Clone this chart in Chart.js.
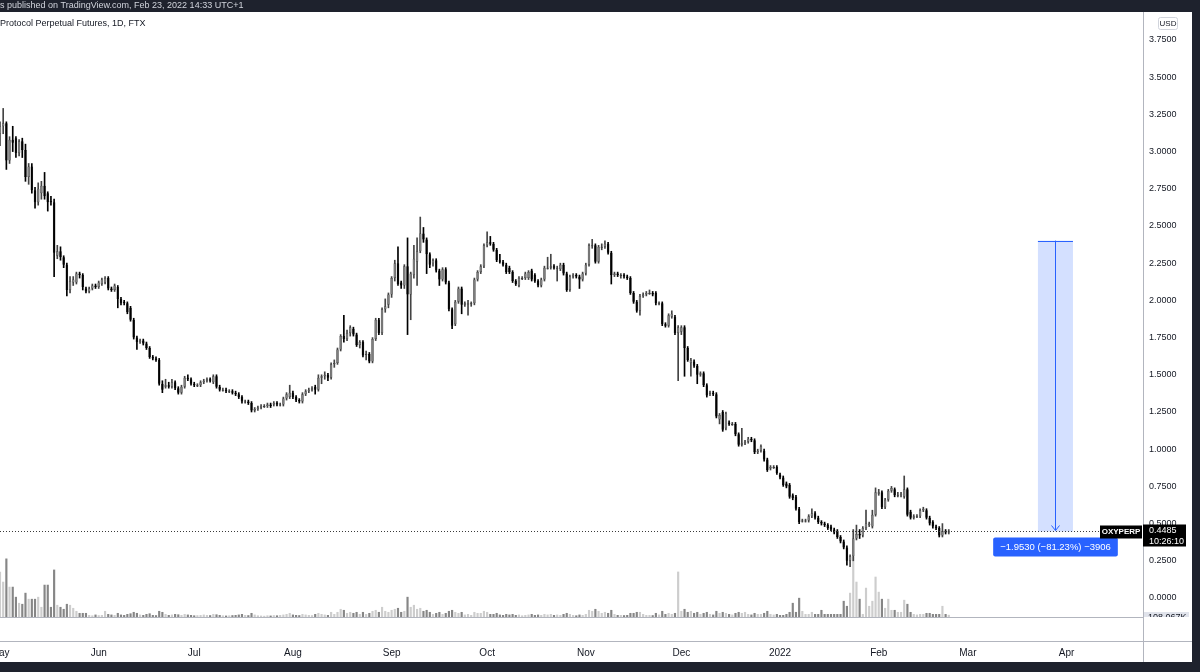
<!DOCTYPE html>
<html lang="en">
<head>
<meta charset="UTF-8">
<title>OXYPERP 1D FTX</title>
<script src="https://cdn.jsdelivr.net/npm/chart.js"></script>
<style>
  body { margin: 0; background: #1e222d; }
  canvas { display: block; }
</style>
</head>
<body>
<canvas id="chart" width="1200" height="672"></canvas>
<script>
// OXYPERP daily candles, 2021-05-01 .. 2022-02-23
const opens = [
  3.12, 3.17, 3.19, 2.94, 3.08, 3.09, 2.99, 3.07, 3.01, 2.83,
  2.90, 2.74, 2.66, 2.72, 2.77, 2.72, 2.67, 2.66, 2.30, 2.33,
  2.29, 2.24, 2.07, 2.12, 2.12, 2.18, 2.17, 2.08, 2.06, 2.08,
  2.10, 2.09, 2.11, 2.12, 2.15, 2.08, 2.07, 2.09, 2.01, 1.99,
  1.98, 1.95, 1.87, 1.75, 1.72, 1.73, 1.71, 1.68, 1.62, 1.61,
  1.60, 1.44, 1.42, 1.43, 1.42, 1.45, 1.41, 1.38, 1.42, 1.48,
  1.47, 1.44, 1.43, 1.43, 1.45, 1.46, 1.47, 1.45, 1.49, 1.42,
  1.40, 1.40, 1.39, 1.39, 1.38, 1.37, 1.35, 1.32, 1.32, 1.31,
  1.26, 1.27, 1.28, 1.29, 1.29, 1.30, 1.30, 1.31, 1.30, 1.30,
  1.34, 1.35, 1.38, 1.35, 1.33, 1.32, 1.37, 1.39, 1.40, 1.42,
  1.40, 1.48, 1.49, 1.50, 1.48, 1.57, 1.58, 1.67, 1.76, 1.74,
  1.78, 1.81, 1.77, 1.70, 1.72, 1.64, 1.64, 1.59, 1.74, 1.87,
  1.78, 1.94, 1.97, 2.04, 2.15, 2.25, 2.12, 2.10, 2.23, 2.04,
  2.17, 2.26, 2.33, 2.45, 2.41, 2.31, 2.25, 2.27, 2.20, 2.14,
  2.21, 2.12, 1.94, 1.84, 1.99, 2.08, 1.97, 1.97, 1.98, 1.98,
  2.14, 2.19, 2.23, 2.37, 2.39, 2.38, 2.34, 2.27, 2.26, 2.24,
  2.22, 2.19, 2.13, 2.10, 2.15, 2.15, 2.15, 2.20, 2.17, 2.13,
  2.10, 2.14, 2.22, 2.22, 2.23, 2.22, 2.21, 2.24, 2.18, 2.07,
  2.16, 2.17, 2.16, 2.14, 2.18, 2.24, 2.37, 2.37, 2.26, 2.36,
  2.36, 2.38, 2.32, 2.17, 2.18, 2.17, 2.17, 2.16, 2.15, 2.05,
  1.99, 1.93, 2.03, 2.04, 2.05, 2.05, 2.05, 1.98, 1.98, 1.84,
  1.83, 1.89, 1.89, 1.78, 1.79, 1.82, 1.68, 1.58, 1.59, 1.56,
  1.50, 1.51, 1.43, 1.38, 1.38, 1.37, 1.20, 1.25, 1.14, 1.18,
  1.17, 1.17, 1.10, 1.03, 1.04, 1.05, 1.07, 1.06, 0.98, 0.99,
  0.99, 0.93, 0.87, 0.88, 0.88, 0.83, 0.81, 0.77, 0.76, 0.69,
  0.68, 0.60, 0.52, 0.52, 0.52, 0.55, 0.57, 0.54, 0.51, 0.50,
  0.49, 0.48, 0.46, 0.45, 0.41, 0.38, 0.34, 0.25, 0.28, 0.40,
  0.43, 0.42, 0.47, 0.49, 0.48, 0.56, 0.70, 0.71, 0.61, 0.66,
  0.72, 0.73, 0.69, 0.69, 0.68, 0.73, 0.58, 0.54, 0.55, 0.55,
  0.59, 0.59, 0.54, 0.51, 0.48, 0.47, 0.42, 0.45, 0.44
];
const highs = [
  3.20, 3.29, 3.20, 3.10, 3.17, 3.10, 3.08, 3.09, 3.05, 2.92,
  2.92, 2.76, 2.79, 2.80, 2.86, 2.73, 2.70, 2.68, 2.37, 2.36,
  2.30, 2.25, 2.16, 2.16, 2.19, 2.19, 2.18, 2.09, 2.09, 2.11,
  2.11, 2.13, 2.15, 2.16, 2.16, 2.09, 2.11, 2.10, 2.02, 2.00,
  1.99, 1.96, 1.88, 1.76, 1.74, 1.74, 1.72, 1.69, 1.63, 1.62,
  1.61, 1.46, 1.47, 1.45, 1.47, 1.46, 1.42, 1.43, 1.49, 1.50,
  1.48, 1.45, 1.44, 1.46, 1.47, 1.48, 1.48, 1.50, 1.50, 1.43,
  1.41, 1.41, 1.40, 1.40, 1.39, 1.38, 1.36, 1.33, 1.33, 1.32,
  1.28, 1.29, 1.30, 1.30, 1.31, 1.31, 1.32, 1.32, 1.31, 1.35,
  1.38, 1.43, 1.39, 1.36, 1.34, 1.38, 1.40, 1.41, 1.42, 1.43,
  1.50, 1.50, 1.52, 1.51, 1.58, 1.60, 1.68, 1.77, 1.90, 1.80,
  1.83, 1.82, 1.78, 1.73, 1.73, 1.66, 1.65, 1.75, 1.88, 1.88,
  1.95, 2.01, 2.05, 2.16, 2.27, 2.36, 2.13, 2.24, 2.42, 2.19,
  2.37, 2.42, 2.56, 2.49, 2.42, 2.32, 2.28, 2.28, 2.21, 2.22,
  2.22, 2.13, 1.95, 2.00, 2.09, 2.09, 1.99, 2.00, 1.99, 2.15,
  2.20, 2.24, 2.38, 2.46, 2.43, 2.39, 2.35, 2.31, 2.27, 2.25,
  2.23, 2.20, 2.14, 2.16, 2.16, 2.19, 2.20, 2.21, 2.18, 2.14,
  2.15, 2.23, 2.29, 2.31, 2.24, 2.23, 2.25, 2.25, 2.19, 2.17,
  2.18, 2.18, 2.17, 2.19, 2.25, 2.38, 2.41, 2.38, 2.37, 2.38,
  2.40, 2.39, 2.33, 2.19, 2.19, 2.18, 2.18, 2.17, 2.16, 2.06,
  2.00, 2.04, 2.05, 2.06, 2.07, 2.06, 2.06, 1.99, 1.99, 1.85,
  1.91, 1.93, 1.90, 1.83, 1.83, 1.83, 1.69, 1.61, 1.60, 1.57,
  1.52, 1.52, 1.44, 1.39, 1.39, 1.38, 1.24, 1.26, 1.25, 1.19,
  1.18, 1.18, 1.11, 1.14, 1.06, 1.08, 1.08, 1.07, 1.00, 1.03,
  1.00, 0.94, 0.89, 0.89, 0.89, 0.84, 0.82, 0.78, 0.77, 0.70,
  0.69, 0.61, 0.53, 0.53, 0.56, 0.60, 0.58, 0.55, 0.52, 0.51,
  0.50, 0.49, 0.47, 0.46, 0.42, 0.39, 0.35, 0.29, 0.46, 0.49,
  0.46, 0.48, 0.59, 0.51, 0.59, 0.74, 0.73, 0.72, 0.67, 0.73,
  0.75, 0.74, 0.71, 0.71, 0.82, 0.74, 0.59, 0.56, 0.56, 0.60,
  0.61, 0.60, 0.55, 0.52, 0.49, 0.48, 0.50, 0.46, 0.46
];
const lows = [
  3.04, 3.12, 2.88, 2.92, 3.00, 2.96, 2.97, 2.96, 2.80, 2.78,
  2.72, 2.62, 2.64, 2.68, 2.68, 2.60, 2.64, 2.16, 2.28, 2.27,
  2.22, 2.03, 2.05, 2.10, 2.11, 2.15, 2.07, 2.05, 2.05, 2.07,
  2.08, 2.08, 2.10, 2.11, 2.07, 2.06, 2.06, 1.95, 1.97, 1.97,
  1.91, 1.86, 1.74, 1.67, 1.71, 1.70, 1.67, 1.61, 1.60, 1.59,
  1.43, 1.38, 1.41, 1.41, 1.41, 1.40, 1.37, 1.37, 1.41, 1.46,
  1.43, 1.42, 1.42, 1.42, 1.44, 1.45, 1.45, 1.44, 1.41, 1.39,
  1.39, 1.38, 1.38, 1.37, 1.36, 1.34, 1.31, 1.31, 1.30, 1.25,
  1.25, 1.26, 1.27, 1.28, 1.28, 1.28, 1.29, 1.29, 1.29, 1.29,
  1.33, 1.34, 1.34, 1.32, 1.31, 1.31, 1.36, 1.38, 1.39, 1.37,
  1.39, 1.44, 1.47, 1.46, 1.47, 1.55, 1.57, 1.66, 1.72, 1.73,
  1.76, 1.76, 1.69, 1.68, 1.62, 1.60, 1.58, 1.58, 1.73, 1.77,
  1.77, 1.92, 1.95, 2.02, 2.13, 2.10, 2.08, 2.08, 1.77, 1.87,
  2.15, 2.10, 2.32, 2.39, 2.18, 2.22, 2.23, 2.19, 2.10, 2.13,
  2.11, 1.93, 1.81, 1.83, 1.98, 1.91, 1.96, 1.90, 1.96, 1.97,
  2.13, 2.18, 2.22, 2.36, 2.37, 2.33, 2.26, 2.25, 2.23, 2.18,
  2.18, 2.12, 2.10, 2.09, 2.14, 2.14, 2.14, 2.13, 2.12, 2.09,
  2.09, 2.13, 2.21, 2.21, 2.21, 2.13, 2.20, 2.17, 2.06, 2.06,
  2.15, 2.15, 2.08, 2.13, 2.17, 2.23, 2.35, 2.25, 2.25, 2.34,
  2.35, 2.31, 2.11, 2.16, 2.16, 2.15, 2.15, 2.14, 2.04, 1.98,
  1.92, 1.90, 2.02, 2.03, 2.04, 2.03, 1.97, 1.97, 1.83, 1.82,
  1.82, 1.88, 1.77, 1.46, 1.77, 1.49, 1.59, 1.49, 1.55, 1.44,
  1.49, 1.42, 1.35, 1.36, 1.36, 1.21, 1.17, 1.12, 1.13, 1.16,
  1.16, 1.09, 1.02, 1.02, 1.03, 1.04, 1.05, 0.97, 0.97, 0.98,
  0.92, 0.85, 0.86, 0.87, 0.83, 0.80, 0.75, 0.74, 0.67, 0.66,
  0.59, 0.50, 0.51, 0.51, 0.51, 0.54, 0.53, 0.50, 0.49, 0.48,
  0.46, 0.45, 0.43, 0.40, 0.37, 0.33, 0.22, 0.21, 0.25, 0.39,
  0.40, 0.41, 0.46, 0.48, 0.47, 0.55, 0.69, 0.60, 0.60, 0.65,
  0.71, 0.68, 0.68, 0.68, 0.67, 0.55, 0.53, 0.53, 0.54, 0.54,
  0.58, 0.53, 0.49, 0.47, 0.46, 0.41, 0.41, 0.43, 0.43
];
const closes = [
  3.17, 3.19, 2.94, 3.08, 3.06, 2.99, 3.07, 3.01, 2.83, 2.90,
  2.74, 2.66, 2.75, 2.77, 2.70, 2.66, 2.66, 2.32, 2.33, 2.29,
  2.24, 2.07, 2.13, 2.14, 2.18, 2.17, 2.09, 2.06, 2.08, 2.10,
  2.09, 2.12, 2.14, 2.15, 2.08, 2.07, 2.10, 2.01, 1.98, 1.98,
  1.92, 1.87, 1.75, 1.72, 1.73, 1.71, 1.68, 1.62, 1.61, 1.60,
  1.44, 1.40, 1.43, 1.42, 1.45, 1.41, 1.38, 1.42, 1.48, 1.47,
  1.44, 1.43, 1.43, 1.45, 1.46, 1.47, 1.46, 1.49, 1.42, 1.40,
  1.40, 1.39, 1.39, 1.38, 1.37, 1.35, 1.32, 1.32, 1.31, 1.26,
  1.27, 1.28, 1.29, 1.29, 1.30, 1.29, 1.31, 1.30, 1.30, 1.34,
  1.37, 1.38, 1.35, 1.33, 1.32, 1.37, 1.39, 1.40, 1.41, 1.40,
  1.48, 1.49, 1.50, 1.48, 1.57, 1.58, 1.67, 1.76, 1.74, 1.78,
  1.82, 1.77, 1.70, 1.72, 1.63, 1.64, 1.59, 1.74, 1.87, 1.78,
  1.94, 1.96, 2.04, 2.15, 2.25, 2.11, 2.10, 2.23, 2.04, 2.18,
  2.28, 2.33, 2.45, 2.41, 2.31, 2.24, 2.27, 2.20, 2.14, 2.21,
  2.12, 1.94, 1.83, 1.99, 2.08, 1.97, 1.98, 1.98, 1.98, 2.14,
  2.19, 2.23, 2.37, 2.39, 2.38, 2.34, 2.27, 2.26, 2.24, 2.19,
  2.19, 2.13, 2.11, 2.15, 2.15, 2.18, 2.19, 2.14, 2.13, 2.10,
  2.14, 2.22, 2.22, 2.23, 2.22, 2.22, 2.24, 2.18, 2.07, 2.16,
  2.17, 2.16, 2.14, 2.18, 2.24, 2.37, 2.37, 2.26, 2.36, 2.36,
  2.38, 2.32, 2.17, 2.18, 2.17, 2.17, 2.16, 2.15, 2.05, 1.99,
  1.93, 2.03, 2.04, 2.05, 2.05, 2.04, 1.98, 1.98, 1.84, 1.83,
  1.90, 1.91, 1.78, 1.82, 1.82, 1.68, 1.60, 1.60, 1.56, 1.50,
  1.51, 1.43, 1.36, 1.38, 1.37, 1.22, 1.23, 1.13, 1.24, 1.17,
  1.17, 1.10, 1.03, 1.04, 1.05, 1.07, 1.06, 0.98, 0.99, 1.02,
  0.93, 0.86, 0.88, 0.88, 0.84, 0.81, 0.76, 0.75, 0.68, 0.67,
  0.60, 0.51, 0.52, 0.52, 0.55, 0.57, 0.54, 0.51, 0.50, 0.49,
  0.47, 0.46, 0.44, 0.41, 0.38, 0.34, 0.25, 0.28, 0.40, 0.43,
  0.42, 0.47, 0.50, 0.50, 0.56, 0.71, 0.71, 0.61, 0.66, 0.72,
  0.74, 0.69, 0.69, 0.70, 0.73, 0.56, 0.54, 0.55, 0.55, 0.59,
  0.60, 0.54, 0.50, 0.48, 0.47, 0.42, 0.45, 0.44, 0.4485
];
// volume, thousands of contracts
const volumes = [
  2250, 1750, 2900, 1500, 1500, 1000, 700, 650, 1200, 900,
  900, 900, 1000, 500, 1600, 1600, 500, 2350, 600, 500,
  400, 650, 600, 450, 300, 200, 200, 200, 100, 80,
  120, 90, 100, 300, 150, 120, 100, 200, 120, 100,
  150, 180, 250, 200, 120, 100, 150, 180, 100, 90,
  300, 250, 150, 100, 120, 150, 130, 100, 150, 120,
  100, 80, 90, 100, 120, 100, 90, 150, 130, 100,
  80, 70, 80, 90, 100, 120, 150, 100, 90, 200,
  120, 80, 70, 60, 80, 70, 90, 80, 100, 120,
  150, 200, 120, 100, 90, 150, 120, 100, 90, 150,
  200, 150, 120, 100, 250, 150, 250, 400, 350, 200,
  250, 200, 250, 150, 250, 150, 200, 300, 350, 250,
  500, 300, 250, 350, 400, 450, 250, 300, 1000, 500,
  600, 400, 450, 300, 350, 250, 150, 200, 250, 150,
  200, 300, 350, 250, 200, 250, 120, 150, 100, 250,
  200, 200, 300, 250, 150, 150, 200, 120, 100, 150,
  120, 150, 100, 120, 80, 100, 120, 150, 100, 120,
  100, 150, 120, 150, 100, 120, 100, 150, 200, 150,
  100, 80, 120, 100, 150, 350, 300, 400, 300, 200,
  250, 200, 350, 150, 100, 100, 90, 100, 200, 200,
  250, 250, 150, 100, 100, 90, 200, 120, 300, 150,
  200, 150, 200, 2250, 300, 400, 250, 300, 200, 250,
  150, 200, 250, 150, 120, 300, 200, 250, 200, 150,
  120, 200, 250, 200, 250, 150, 120, 200, 150, 150,
  200, 300, 150, 120, 150, 100, 100, 150, 250, 700,
  250, 950, 300, 150, 150, 250, 150, 150, 350, 150,
  150, 150, 150, 150, 150, 800, 550, 1200, 3000, 1750,
  900, 150, 1450, 550, 800, 2000, 1250, 900, 450, 900,
  350, 350, 250, 250, 850, 650, 250, 150, 120, 150,
  150, 200, 200, 150, 150, 150, 550, 150, 108.067
];

const firstDay = '2021-05-01';
const axisDays = 360; // time axis runs on past the last candle, to late April
const monthDates = ['2021-05-01', '2021-06-01', '2021-07-01', '2021-08-01', '2021-09-01', '2021-10-01',
                    '2021-11-01', '2021-12-01', '2022-01-01', '2022-02-01', '2022-03-01', '2022-04-01'];
const monthNames = ['May', 'Jun', 'Jul', 'Aug', 'Sep', 'Oct', 'Nov', 'Dec', '2022', 'Feb', 'Mar', 'Apr'];
const priceTicks = [0, 0.25, 0.5, 0.75, 1, 1.25, 1.5, 1.75, 2, 2.25, 2.5, 2.75, 3, 3.25, 3.5, 3.75];

// measure tool drawn on the chart
const measureFrom = '2022-03-23';
const measureTo = '2022-04-03';
const measureTop = 2.4015;
const measureText = '\u22121.9530 (\u221281.23%) \u22123906';

// one category per calendar day
const days = [];
for (let i = 0; i < axisDays; i++) {
    const d = new Date(firstDay + 'T00:00:00Z');
    d.setUTCDate(d.getUTCDate() + i);
    days.push(d.toISOString().slice(0, 10));
}

const isUp = closes.map((c, i) => c >= opens[i]);
const FONT = '"Liberation Sans", Arial, sans-serif';

const tvFrame = {
    id: 'tvFrame',
    beforeDraw(chart) {
        const ctx = chart.ctx;
        ctx.save();
        ctx.fillStyle = '#ffffff';
        ctx.fillRect(0, 0, chart.width, chart.height);
        ctx.restore();
    },
    afterDraw(chart) {
        const { ctx, chartArea: a } = chart;
        const x = chart.scales.x, y = chart.scales.y;
        ctx.save();

        // last price dotted line
        const last = closes[closes.length - 1];
        const py = Math.round(y.getPixelForValue(last)) + 0.5;
        ctx.strokeStyle = '#3a3a3a';
        ctx.lineWidth = 1;
        ctx.setLineDash([1, 2]);
        ctx.beginPath();
        ctx.moveTo(a.left, py);
        ctx.lineTo(1100, py);
        ctx.stroke();
        ctx.setLineDash([]);

        // measure rectangle + arrow
        const mx1 = x.getPixelForValue(days.indexOf(measureFrom));
        const mx2 = x.getPixelForValue(days.indexOf(measureTo));
        const my1 = y.getPixelForValue(measureTop);
        const mid = Math.round((mx1 + mx2) / 2) + 0.5;
        ctx.fillStyle = 'rgba(41, 98, 255, 0.2)';
        ctx.fillRect(mx1, my1, mx2 - mx1, py - my1);
        ctx.strokeStyle = '#2962ff';
        ctx.beginPath();
        ctx.moveTo(mx1, Math.round(my1) + 0.5);
        ctx.lineTo(mx2, Math.round(my1) + 0.5);
        ctx.moveTo(mid, my1);
        ctx.lineTo(mid, py - 1);
        ctx.moveTo(mid - 4, py - 6);
        ctx.lineTo(mid, py - 1);
        ctx.lineTo(mid + 4, py - 6);
        ctx.stroke();

        ctx.font = '9.5px ' + FONT;
        const tw = ctx.measureText(measureText).width;
        const bw = tw + 14, bx = mid - bw / 2, by = py + 6;
        ctx.fillStyle = '#2962ff';
        ctx.beginPath();
        ctx.roundRect(bx, by, bw, 19, 2);
        ctx.fill();
        ctx.fillStyle = '#ffffff';
        ctx.textAlign = 'center';
        ctx.textBaseline = 'middle';
        ctx.fillText(measureText, mid, by + 10);

        // symbol tag and price tag
        ctx.fillStyle = '#000000';
        ctx.fillRect(1100, py - 6, 42, 13);
        ctx.fillRect(a.right, py - 7, 43, 22);
        ctx.fillStyle = '#ffffff';
        ctx.font = 'bold 8px ' + FONT;
        ctx.fillText('OXYPERP', 1121, py + 0.5);
        ctx.textAlign = 'left';
        ctx.font = '9px ' + FONT;
        ctx.fillText(last.toFixed(4), a.right + 6, py - 0.5);
        ctx.fillText('10:26:10', a.right + 6, py + 10);

        // volume tag, cut by the pane separator
        ctx.save();
        ctx.beginPath();
        ctx.rect(a.right + 1, a.bottom - 6, 50, 6);
        ctx.clip();
        ctx.fillStyle = '#e0e3eb';
        ctx.fillRect(a.right + 1, a.bottom - 5, 45, 10);
        ctx.fillStyle = '#131722';
        ctx.font = '9px ' + FONT;
        ctx.fillText('108.067K', a.right + 5, a.bottom + 0.5);
        ctx.restore();

        // USD box
        ctx.strokeStyle = '#d1d4dc';
        ctx.beginPath();
        ctx.roundRect(1158.5, 17.5, 19, 12, 2);
        ctx.stroke();
        ctx.fillStyle = '#131722';
        ctx.font = '8px ' + FONT;
        ctx.textAlign = 'center';
        ctx.fillText('USD', 1168, 24);

        // empty lower pane and axis frame
        ctx.strokeStyle = '#b2b5be';
        ctx.beginPath();
        ctx.moveTo(0, 641.5);
        ctx.lineTo(1192, 641.5);
        ctx.moveTo(a.right + 0.5, a.bottom);
        ctx.lineTo(a.right + 0.5, 662);
        ctx.stroke();

        // dark screenshot border
        ctx.fillStyle = '#1e222d';
        ctx.fillRect(0, 0, chart.width, 12);
        ctx.fillRect(1192, 0, 8, chart.height);
        ctx.fillRect(0, 662, chart.width, 10);

        ctx.fillStyle = '#d1d4dc';
        ctx.font = '9px ' + FONT;
        ctx.textAlign = 'left';
        ctx.textBaseline = 'alphabetic';
        ctx.fillText('s published on TradingView.com, Feb 23, 2022 14:33 UTC+1', 0, 8);

        ctx.fillStyle = '#131722';
        ctx.font = '9px ' + FONT;
        ctx.textBaseline = 'middle';
        ctx.fillText('Protocol Perpetual Futures, 1D, FTX', 0, 24);

        ctx.restore();
    }
};

new Chart(document.getElementById('chart'), {
    type: 'bar',
    data: {
        labels: days,
        datasets: [
            {
                label: 'Volume',
                data: volumes,
                yAxisID: 'yv',
                grouped: false,
                order: 3,
                backgroundColor: isUp.map(u => u ? '#cdcdcd' : '#868686'),
                barPercentage: 0.8,
                categoryPercentage: 0.85
            },
            {
                label: 'Wick',
                data: lows.map((l, i) => [l, highs[i]]),
                yAxisID: 'y',
                grouped: false,
                order: 2,
                barThickness: 1,
                backgroundColor: isUp.map(u => u ? '#444444' : '#000000')
            },
            {
                label: 'Body',
                data: opens.map((o, i) => [o, closes[i]]),
                yAxisID: 'y',
                grouped: false,
                order: 1,
                minBarLength: 1,
                barPercentage: 0.9,
                categoryPercentage: 0.9,
                backgroundColor: isUp.map(u => u ? '#7e7e7e' : '#000000'),
                borderColor: isUp.map(u => u ? '#3c3c3c' : '#000000'),
                borderWidth: 0.5,
                borderSkipped: false
            }
        ]
    },
    options: {
        responsive: false,
        animation: false,
        devicePixelRatio: 1,
        layout: { padding: { top: 12, left: 0, right: 8, bottom: 10 } },
        plugins: {
            legend: { display: false },
            tooltip: { enabled: false }
        },
        scales: {
            x: {
                offset: false,
                grid: { display: false, drawTicks: false },
                border: { display: true, color: '#b2b5be' },
                afterFit: s => { s.height = 45; s.paddingLeft = 0; s.paddingRight = 0; },
                ticks: {
                    autoSkip: false,
                    maxRotation: 0,
                    minRotation: 0,
                    padding: 30,
                    color: '#131722',
                    font: { family: FONT, size: 10 },
                    callback: function (v) {
                        const k = monthDates.indexOf(this.getLabelForValue(v));
                        return k >= 0 ? monthNames[k] : '';
                    }
                }
            },
            y: {
                position: 'right',
                min: -0.1277,
                max: 3.938,
                grid: { display: false, drawTicks: false },
                border: { display: true, color: '#b2b5be' },
                afterFit: s => { s.width = 49; },
                afterBuildTicks: s => { s.ticks = priceTicks.map(v => ({ value: v })); },
                ticks: {
                    padding: 6,
                    color: '#131722',
                    font: { family: FONT, size: 9 },
                    callback: v => v.toFixed(4)
                }
            },
            yv: {
                display: false,
                min: 0,
                max: 30000
            }
        }
    },
    plugins: [tvFrame]
});
</script>
</body>
</html>
